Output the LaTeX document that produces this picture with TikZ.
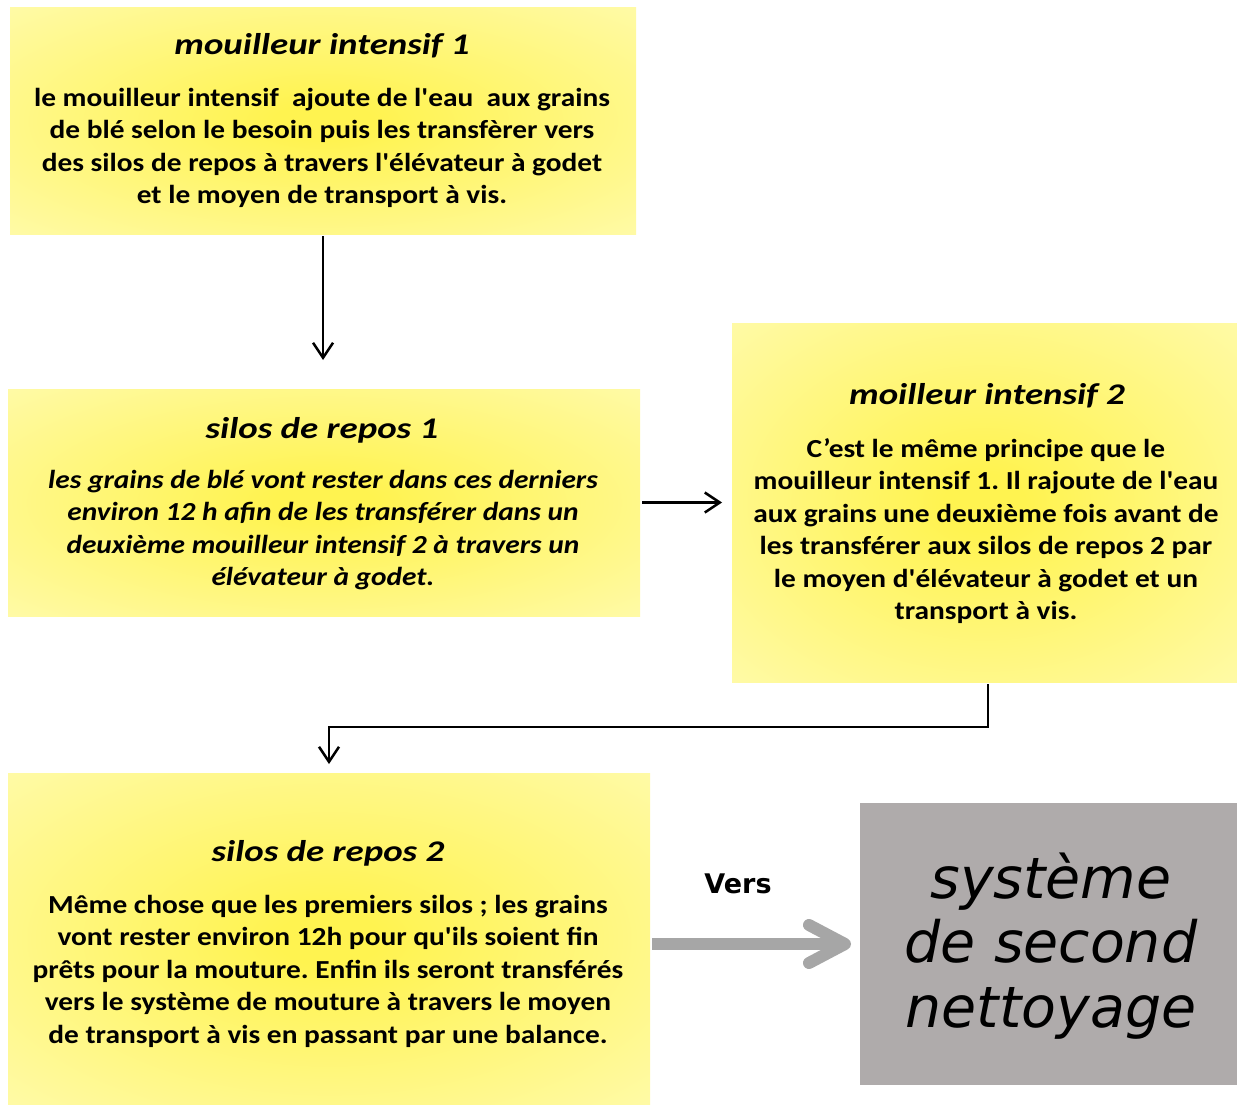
\documentclass[tikz,border=0pt]{standalone}
\usepackage{fontspec}
\newfontfamily\carlT{Carlito}[FakeStretch=1.23]
\newfontfamily\carlB{Carlito}[FakeStretch=1.13]
\newfontfamily\dvs{DejaVu Sans}
\usetikzlibrary{arrows.meta}
\frenchspacing
\definecolor{yin}{RGB}{255,243,80}
\definecolor{yout}{RGB}{255,255,222}
\definecolor{greybox}{RGB}{175,171,171}
\definecolor{greyarrow}{RGB}{166,166,166}
\pgfdeclareradialshading{yglow}{\pgfpoint{0bp}{0bp}}{color(0bp)=(yin); color(4bp)=(yin); color(56bp)=(yout); color(72bp)=(yout)}
\begin{document}
\begin{tikzpicture}[x=1pt,y=-1pt,
  ybox/.style={shading=yglow, draw=none, inner sep=0pt, outer sep=0pt, anchor=north west},
  ttl/.style={font=\carlT\bfseries\itshape\fontsize{30}{36}\selectfont, inner sep=0pt},
  bdy/.style={font=\carlB\bfseries\fontsize{26}{32.5}\selectfont, align=center, inner sep=0pt},
  bdyit/.style={font=\carlB\bfseries\itshape\fontsize{26}{32.5}\selectfont, align=center, inner sep=0pt},
  blk/.style={draw=black, line width=2.5pt, -{Straight Barb[length=15pt,width=20pt]}},
  garr/.style={draw=greyarrow, line width=12pt, -{Straight Barb[length=36pt,width=38pt,round]}}]
\useasboundingbox (0,0) rectangle (1237,1105);
\fill[white] (0,0) rectangle (1237,1105);

% boxes
\node[ybox, minimum width=626pt, minimum height=226pt] (m1) at (10,8) {};
\node[ybox, minimum width=632pt, minimum height=227pt] (s1) at (8,389) {};
\node[ybox, minimum width=505pt, minimum height=359pt] (m2) at (732,323) {};
\node[ybox, minimum width=642pt, minimum height=332pt] (s2) at (8,773) {};
\node[fill=greybox, draw=none, inner sep=0pt, outer sep=0pt, anchor=north west,
      minimum width=377pt, minimum height=282pt] (g) at (860,803) {};

% texts
\node[ttl] (m1t) at (322,46) {mouilleur intensif 1};
\node[bdy] (m1b) at (322,148) {le mouilleur intensif~ ajoute de l'eau~ aux grains\\
de blé selon le besoin puis les transfèrer vers\\
des silos de repos à travers l'élévateur à godet\\
et le moyen de transport à vis.};

\node[ttl] (s1t) at (322,430) {silos de repos 1};
\node[bdyit] (s1b) at (323,530) {les grains de blé vont rester dans ces derniers\\
environ 12 h afin de les transférer dans un\\
deuxième mouilleur intensif 2 à travers un\\
élévateur à godet.};

\node[ttl] (m2t) at (987,396) {moilleur intensif 2};
\node[bdy] (m2b) at (986,531) {C’est le même principe que le\\
mouilleur intensif 1. Il rajoute de l'eau\\
aux grains une deuxième fois avant de\\
les transférer aux silos de repos 2 par\\
le moyen d'élévateur à godet et un\\
transport à vis.};

\node[ttl] (s2t) at (328,853) {silos de repos 2};
\node[bdy] (s2b) at (328,971) {Même chose que les premiers silos ; les grains\\
vont rester environ 12h pour qu'ils soient fin\\
prêts pour la mouture. Enfin ils seront transférés\\
vers le système de mouture à travers le moyen\\
de transport à vis en passant par une balance.};

\node[font=\dvs\itshape\fontsize{57}{64.5}\selectfont, align=center, inner sep=0pt] (gt) at (1051,946) {système\\de second\\nettoyage};

\node[font=\dvs\bfseries\fontsize{27}{32}\selectfont, inner sep=0pt] (vers) at (738,884) {Vers};

% connectors
\draw[blk, shorten <=2pt, shorten >=29pt] (m1.south) -- (m1.south |- s1.north);
\draw[blk, shorten <=2pt, shorten >=10pt] (s1.east) -- (s1.east -| m2.west);
\draw[blk, shorten <=2pt, shorten >=9pt] ([xshift=3.5pt]m2.south) -- ++(0,45) -| (s2.north);
\draw[garr, shorten <=2pt, shorten >=9pt] (g.west -| s2.east) -- (g.west);
\end{tikzpicture}
\end{document}
